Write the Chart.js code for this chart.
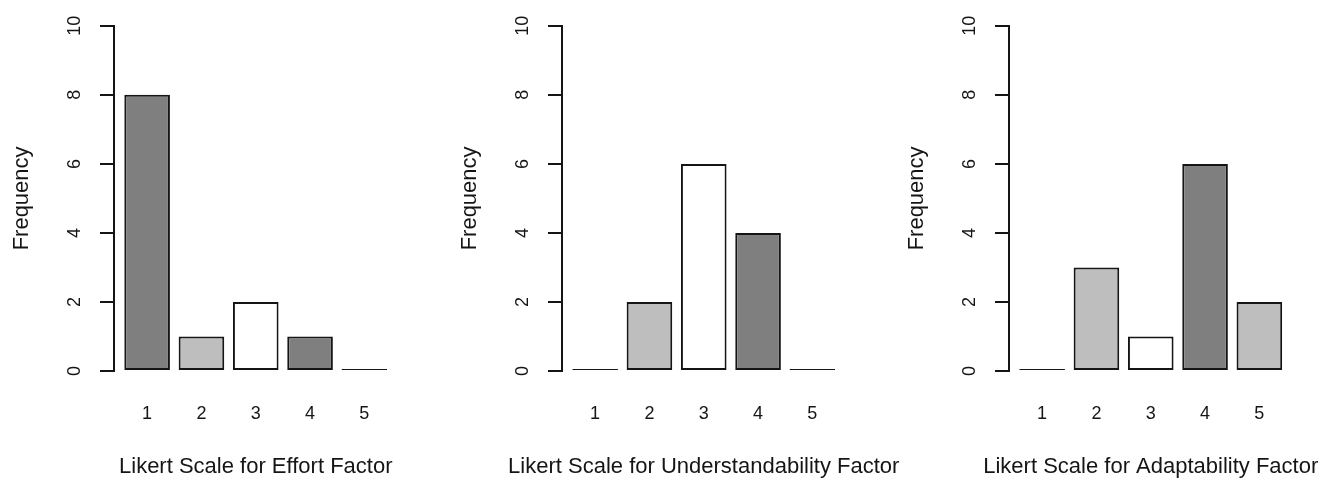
<!DOCTYPE html>
<html>
<head>
<meta charset="utf-8">
<script src="https://cdn.jsdelivr.net/npm/chart.js@4.4.1/dist/chart.umd.min.js"></script>
<style>
  html, body { margin: 0; padding: 0; background: #fff; overflow: hidden; }
  .panel { position: absolute; top: 0; width: 456px; height: 479px; }
</style>
</head>
<body>
<div class="panel" style="left:0px"><canvas id="effort"></canvas></div>
<div class="panel" style="left:448px"><canvas id="understand"></canvas></div>
<div class="panel" style="left:895px"><canvas id="adapt"></canvas></div>
<script>
// likert levels and frequency counts
var categories = ['1', '2', '3', '4', '5'];
var effortCounts = [8, 1, 2, 1, 0];
var understandCounts = [0, 2, 6, 4, 0];
var adaptCounts = [0, 3, 1, 6, 2];
var yTickValues = [0, 2, 4, 6, 8, 10];
var yTitle = 'Frequency';

// fills cycle like R's col=c("gray50","gray","white")
var barFills = ['#7f7f7f', '#bebebe', '#ffffff'];
var ink = '#151515';
var fontFamily = "'Liberation Sans', Arial, Helvetica, sans-serif";

// x title is drawn under the plot region, centred on it, without squeezing
var xTitlePlugin = {
    id: 'xTitle',
    afterDraw: function(chart, args, opts) {
        var ctx = chart.ctx;
        var area = chart.chartArea;
        ctx.save();
        ctx.font = '22px ' + fontFamily;
        ctx.fillStyle = ink;
        ctx.textAlign = 'center';
        ctx.textBaseline = 'alphabetic';
        ctx.fillText(opts.text, (area.left + area.right) / 2, area.bottom + 102);
        ctx.restore();
    }
};

function makeChart(id, counts, xLabel) {
    var fills = counts.map(function(v, i) { return barFills[i % barFills.length]; });
    return new Chart(document.getElementById(id), {
        type: 'bar',
        data: {
            labels: categories,
            datasets: [{
                data: counts,
                backgroundColor: fills,
                borderColor: ink,
                borderWidth: 2,
                borderSkipped: false,
                minBarLength: 2,
                categoryPercentage: 1,
                barPercentage: 0.84,
                clip: false
            }]
        },
        plugins: [xTitlePlugin],
        options: {
            responsive: true,
            maintainAspectRatio: false,
            animation: false,
            events: [],
            layout: { padding: { top: 24, right: 58.5, bottom: 0, left: 0 } },
            scales: {
                x: {
                    type: 'linear',
                    offset: false,
                    min: 0.39,
                    max: 5.61,
                    afterFit: function(scale) { scale.height = 108; },
                    afterBuildTicks: function(scale) {
                        scale.ticks = categories.map(function(c) { return { value: +c }; });
                    },
                    grid: { display: false, drawTicks: false, offset: false },
                    border: { display: false },
                    ticks: {
                        padding: 32,
                        color: ink,
                        font: { family: fontFamily, size: 18 },
                        maxRotation: 0,
                        autoSkip: false,
                        callback: function(v) { return String(v); }
                    }
                },
                y: {
                    min: 0,
                    max: 10,
                    afterFit: function(scale) { scale.width = 114; },
                    afterBuildTicks: function(scale) {
                        scale.ticks = yTickValues.map(function(v) { return { value: v }; });
                    },
                    grid: {
                        drawOnChartArea: false,
                        drawTicks: true,
                        tickLength: 14,
                        color: ink,
                        lineWidth: 2
                    },
                    border: { display: true, color: ink, width: 2 },
                    ticks: {
                        padding: 15,
                        minRotation: 90,
                        maxRotation: 90,
                        crossAlign: 'center',
                        color: ink,
                        font: { family: fontFamily, size: 18 }
                    },
                    title: {
                        display: true,
                        text: yTitle,
                        color: ink,
                        font: { family: fontFamily, size: 22 },
                        padding: { top: 9, bottom: 0 }
                    }
                }
            },
            plugins: {
                legend: { display: false },
                tooltip: { enabled: false },
                xTitle: { text: xLabel }
            }
        }
    });
}

makeChart('effort', effortCounts, 'Likert Scale for Effort Factor');
makeChart('understand', understandCounts, 'Likert Scale for Understandability Factor');
makeChart('adapt', adaptCounts, 'Likert Scale for Adaptability Factor');
</script>
</body>
</html>
